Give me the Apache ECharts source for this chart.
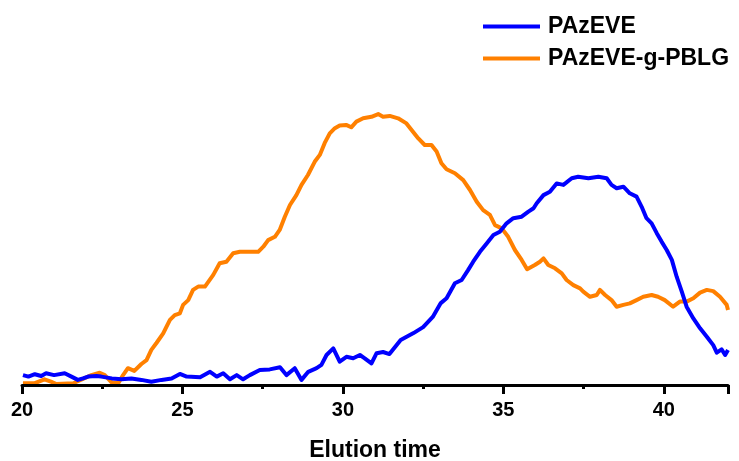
<!DOCTYPE html>
<html>
<head>
<meta charset="utf-8">
<title>Elution profiles</title>
<script src="https://cdn.jsdelivr.net/npm/echarts@6/dist/echarts.min.js"></script>
<style>
  html, body { margin: 0; padding: 0; background: #ffffff; }
  #chart { width: 739px; height: 461px; }
</style>
</head>
<body>
<div id="chart"></div>
<script>
// Elution time (min) and normalised detector response for each sample
const seriesNames = ['PAzEVE', 'PAzEVE-g-PBLG'];

const pazeveTime = [20.03, 20.2, 20.4, 20.6, 20.75, 21.0, 21.33, 21.54, 21.74, 21.9, 22.06, 22.32, 22.47, 22.8, 23.1, 23.41, 23.72, 24.03, 24.35, 24.66, 24.92, 25.13, 25.55, 25.86, 26.07, 26.27, 26.48, 26.69, 26.89, 27.1, 27.41, 27.72, 28.04, 28.24, 28.5, 28.71, 28.92, 29.18, 29.33, 29.49, 29.7, 29.9, 30.11, 30.32, 30.53, 30.68, 30.89, 31.05, 31.25, 31.45, 31.8, 32.2, 32.5, 32.8, 33.05, 33.23, 33.49, 33.7, 33.9, 34.06, 34.27, 34.48, 34.69, 34.89, 35.1, 35.31, 35.57, 35.78, 35.94, 36.04, 36.25, 36.45, 36.66, 36.87, 37.13, 37.33, 37.65, 37.96, 38.22, 38.37, 38.53, 38.74, 38.94, 39.15, 39.31, 39.46, 39.62, 39.78, 39.93, 40.09, 40.25, 40.4, 40.56, 40.71, 40.92, 41.13, 41.34, 41.54, 41.65, 41.8, 41.91, 42.0];
const pazeveSignal = [0.033, 0.028, 0.036, 0.030, 0.039, 0.033, 0.039, 0.028, 0.017, 0.022, 0.028, 0.030, 0.028, 0.022, 0.019, 0.022, 0.017, 0.011, 0.017, 0.022, 0.037, 0.028, 0.026, 0.044, 0.028, 0.039, 0.019, 0.033, 0.019, 0.033, 0.050, 0.052, 0.059, 0.033, 0.056, 0.017, 0.044, 0.056, 0.067, 0.100, 0.122, 0.078, 0.094, 0.089, 0.100, 0.089, 0.072, 0.106, 0.110, 0.103, 0.150, 0.173, 0.193, 0.227, 0.273, 0.289, 0.339, 0.350, 0.383, 0.411, 0.444, 0.472, 0.500, 0.511, 0.539, 0.556, 0.561, 0.578, 0.589, 0.606, 0.633, 0.644, 0.672, 0.667, 0.689, 0.694, 0.689, 0.694, 0.689, 0.667, 0.656, 0.661, 0.639, 0.628, 0.594, 0.556, 0.539, 0.506, 0.478, 0.450, 0.417, 0.361, 0.311, 0.261, 0.222, 0.189, 0.161, 0.133, 0.108, 0.119, 0.100, 0.117];

const graftTime = [20.03, 20.4, 20.7, 20.9, 21.07, 21.6, 22.16, 22.42, 22.58, 22.8, 23.0, 23.15, 23.3, 23.5, 23.72, 23.88, 24.03, 24.19, 24.4, 24.5, 24.61, 24.76, 24.92, 25.02, 25.18, 25.33, 25.49, 25.7, 25.96, 26.16, 26.37, 26.58, 26.79, 27.1, 27.36, 27.52, 27.67, 27.88, 28.03, 28.19, 28.35, 28.55, 28.71, 28.91, 29.12, 29.28, 29.43, 29.59, 29.75, 29.9, 30.1, 30.26, 30.42, 30.63, 30.89, 31.1, 31.25, 31.46, 31.72, 31.98, 32.14, 32.35, 32.55, 32.76, 32.92, 33.07, 33.23, 33.49, 33.75, 33.96, 34.17, 34.37, 34.58, 34.74, 34.95, 35.15, 35.36, 35.57, 35.74, 35.98, 36.14, 36.25, 36.4, 36.61, 36.82, 36.97, 37.18, 37.39, 37.49, 37.7, 37.91, 38.01, 38.17, 38.37, 38.53, 38.74, 38.94, 39.15, 39.36, 39.62, 39.82, 40.03, 40.29, 40.5, 40.71, 40.92, 41.13, 41.34, 41.54, 41.75, 41.96, 42.0];
const graftSignal = [0.006, 0.006, 0.019, 0.011, 0.003, 0.006, 0.033, 0.041, 0.033, 0.008, 0.006, 0.033, 0.056, 0.047, 0.070, 0.083, 0.117, 0.140, 0.172, 0.194, 0.217, 0.233, 0.239, 0.267, 0.283, 0.317, 0.328, 0.328, 0.367, 0.406, 0.411, 0.439, 0.444, 0.444, 0.444, 0.461, 0.483, 0.494, 0.517, 0.561, 0.600, 0.633, 0.667, 0.700, 0.744, 0.767, 0.806, 0.839, 0.856, 0.865, 0.867, 0.859, 0.878, 0.889, 0.894, 0.903, 0.894, 0.897, 0.889, 0.872, 0.850, 0.822, 0.800, 0.800, 0.778, 0.739, 0.719, 0.706, 0.683, 0.650, 0.611, 0.583, 0.567, 0.533, 0.522, 0.494, 0.450, 0.417, 0.386, 0.400, 0.411, 0.422, 0.400, 0.389, 0.372, 0.350, 0.333, 0.322, 0.311, 0.294, 0.300, 0.317, 0.300, 0.283, 0.261, 0.267, 0.272, 0.283, 0.294, 0.300, 0.294, 0.283, 0.261, 0.278, 0.278, 0.289, 0.308, 0.317, 0.313, 0.294, 0.267, 0.250];

const xTicks = { min: 20, max: 42, interval: 5 };

const pairs = (xs, ys) => xs.map((x, i) => [x, ys[i]]);

const chart = echarts.init(document.getElementById('chart'), null, { renderer: 'canvas' });

chart.setOption({
  animation: false,
  backgroundColor: '#ffffff',
  textStyle: { fontFamily: 'Liberation Sans, Arial, sans-serif' },
  grid: { left: 22, right: 11, top: 85, bottom: 76, containLabel: false, outerBoundsMode: 'none' },
  legend: {
    orient: 'vertical',
    left: 483,
    top: 15,
    padding: 0,
    itemGap: 9,
    itemWidth: 57,
    itemHeight: 4,
    icon: 'rect',
    data: seriesNames,
    textStyle: {
      fontFamily: 'Liberation Sans, Arial, sans-serif',
      fontSize: 23,
      fontWeight: 'bold',
      color: '#000000',
      lineHeight: 23,
      padding: [0, 0, 0, 3]
    }
  },
  xAxis: {
    type: 'value',
    min: xTicks.min,
    max: xTicks.max,
    interval: xTicks.interval,
    z: 5,
    name: 'Elution time',
    nameLocation: 'middle',
    nameGap: 54,
    nameTextStyle: {
      fontFamily: 'Liberation Sans, Arial, sans-serif',
      fontSize: 23,
      fontWeight: 'bold',
      color: '#000000'
    },
    axisLine: { show: true, onZero: false, lineStyle: { color: '#000000', width: 3 } },
    axisTick: { show: true, inside: false, length: 9, lineStyle: { color: '#000000', width: 3 } },
    minorTick: { show: true, splitNumber: 2, length: 4, lineStyle: { color: '#000000', width: 3 } },
    splitLine: { show: false },
    axisLabel: {
      margin: 15,
      fontFamily: 'Liberation Sans, Arial, sans-serif',
      fontSize: 20,
      fontWeight: 'bold',
      color: '#000000',
      showMaxLabel: false
    }
  },
  yAxis: {
    type: 'value',
    min: 0,
    max: 1,
    show: false,
    splitLine: { show: false }
  },
  series: [
    {
      name: seriesNames[0],
      type: 'line',
      data: pairs(pazeveTime, pazeveSignal),
      showSymbol: false,
      symbol: 'none',
      color: '#0000ff',
      lineStyle: { color: '#0000ff', width: 4, join: 'round' },
      z: 3
    },
    {
      name: seriesNames[1],
      type: 'line',
      data: pairs(graftTime, graftSignal),
      showSymbol: false,
      symbol: 'none',
      color: '#ff8000',
      lineStyle: { color: '#ff8000', width: 4, join: 'round' },
      z: 2
    }
  ]
});
</script>
</body>
</html>
